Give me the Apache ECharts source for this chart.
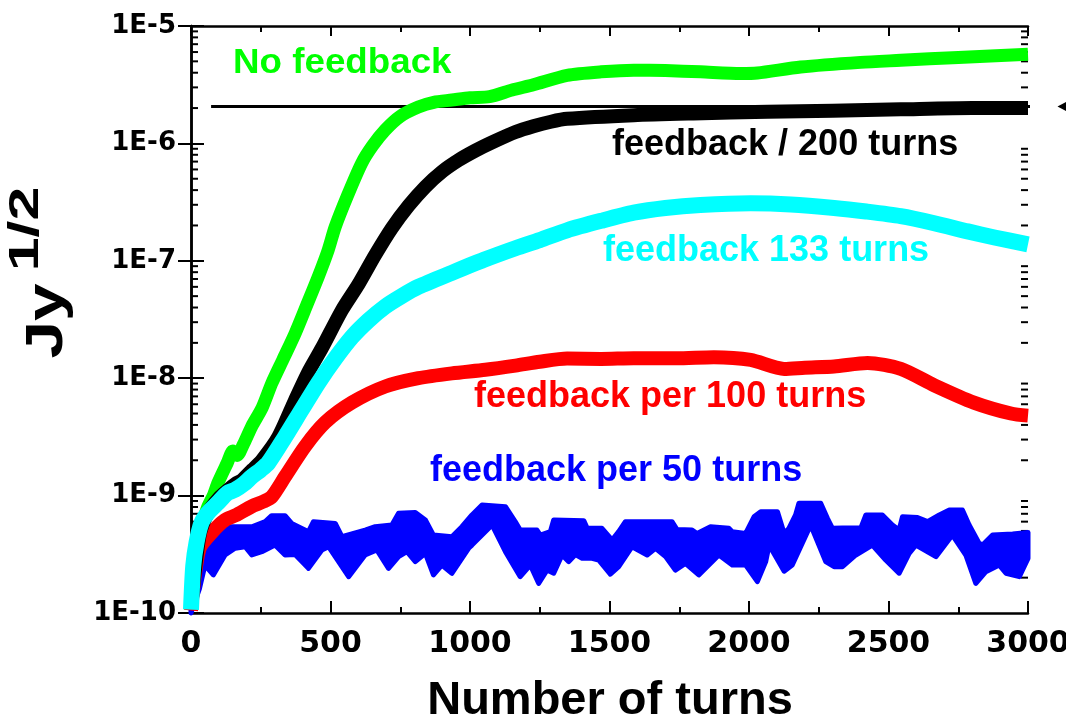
<!DOCTYPE html>
<html>
<head>
<meta charset="utf-8">
<script src="https://cdn.jsdelivr.net/npm/echarts@6/dist/echarts.min.js"></script>
<style>
html,body{margin:0;padding:0;background:#fff;overflow:hidden;}
#chart{width:1066px;height:723px;}
</style>
</head>
<body>
<div id="chart"></div>
<script>
// ---------- data (turns, Jy^1/2) ----------
const xTicks = [0, 500, 1000, 1500, 2000, 2500, 3000];
const yTickLabels = ['1E-10', '1E-9', '1E-8', '1E-7', '1E-6', '1E-5'];

const greenT = [0,15,25,45,61,80,97,130,150,165,190,218,255,290,330,373,415,456,490,517,560,612,650,696,750,815,870,935,1000,1070,1151,1227,1348,1470,1587,1700,1826,1970,2030,2185,2400,2544,2750,3000];
const greenV = [1.1e-10,3.2e-10,4.5e-10,6.3e-10,8.1e-10,1.0e-9,1.29e-9,1.9e-9,2.4e-9,2.2e-9,2.8e-9,3.9e-9,5.6e-9,9.1e-9,1.45e-8,2.4e-8,4.2e-8,7.3e-8,1.2e-7,1.95e-7,3.55e-7,6.8e-7,9.5e-7,1.3e-6,1.7e-6,2.04e-6,2.24e-6,2.34e-6,2.45e-6,2.5e-6,2.85e-6,3.16e-6,3.8e-6,4.07e-6,4.2e-6,4.17e-6,4.07e-6,3.94e-6,3.98e-6,4.47e-6,4.9e-6,5.1e-6,5.4e-6,5.75e-6];

const blackT = [0,30,60,100,133,160,182,220,254,313,373,420,470,541,600,660,720,780,840,900,959,1020,1079,1163,1227,1290,1348,1587,1800,2066,2300,2544,2800,3000];
const blackV = [1.1e-10,4.5e-10,7.1e-10,9.5e-10,1.12e-9,1.26e-9,1.35e-9,1.66e-9,2.0e-9,3.16e-9,6.5e-9,1.12e-8,1.82e-8,3.8e-8,6.3e-8,1.12e-7,1.9e-7,2.95e-7,4.27e-7,5.75e-7,7.2e-7,8.7e-7,1.02e-6,1.25e-6,1.4e-6,1.53e-6,1.62e-6,1.74e-6,1.8e-6,1.86e-6,1.9e-6,1.95e-6,2.0e-6,2.0e-6];

const cyanT = [0,8,20,38,60,97,130,158,190,218,250,277,337,397,456,515,577,636,696,755,815,935,1050,1163,1250,1348,1470,1587,1700,1826,2006,2150,2305,2420,2544,2664,2784,2880,3000];
const cyanV = [1.07e-10,2.5e-10,4.0e-10,5.9e-10,7.1e-10,8.7e-10,1.05e-9,1.12e-9,1.26e-9,1.45e-9,1.66e-9,1.9e-9,3.16e-9,5.4e-9,9.1e-9,1.45e-8,2.24e-8,3.1e-8,4.07e-8,5.0e-8,6.0e-8,7.9e-8,1.02e-7,1.28e-7,1.5e-7,1.82e-7,2.19e-7,2.57e-7,2.82e-7,2.99e-7,3.09e-7,3.02e-7,2.82e-7,2.63e-7,2.4e-7,2.09e-7,1.78e-7,1.58e-7,1.38e-7];

const redT = [0,30,80,122,160,218,260,290,337,409,481,577,696,815,935,1055,1163,1250,1348,1470,1587,1740,1874,2006,2126,2200,2305,2425,2544,2664,2806,2939,3000];
const redV = [1.05e-10,3.5e-10,5.0e-10,6.2e-10,6.8e-10,8.1e-10,8.9e-10,9.8e-10,1.45e-9,2.63e-9,4.2e-9,6.2e-9,8.5e-9,1.0e-8,1.1e-8,1.18e-8,1.28e-8,1.38e-8,1.47e-8,1.46e-8,1.48e-8,1.48e-8,1.51e-8,1.43e-8,1.2e-8,1.23e-8,1.26e-8,1.35e-8,1.2e-8,8.7e-9,6.2e-9,5.0e-9,4.8e-9];

// blue band (feedback per 50 turns): upper and lower envelope of the noisy trace
const blueUpT = [0,30,60,100,122,218,266,289,337,361,421,439,517,541,624,660,720,744,804,840,869,935,971,1007,1043,1127,1162,1180,1240,1252,1288,1300,1408,1420,1473,1509,1533,1557,1724,1742,1796,1814,1862,1928,1940,1988,2018,2042,2102,2126,2143,2167,2179,2257,2281,2299,2335,2401,2419,2478,2514,2538,2550,2604,2640,2682,2718,2765,2789,2825,2837,2873,2945,3000];
const blueUpV = [1.2e-10,2.6e-10,3.5e-10,5.0e-10,5.43e-10,5.43e-10,6.0e-10,6.75e-10,6.75e-10,5.8e-10,4.93e-10,6.0e-10,5.8e-10,4.47e-10,5.09e-10,5.43e-10,5.62e-10,7.06e-10,7.19e-10,6.2e-10,4.61e-10,4.47e-10,5.43e-10,6.84e-10,8.3e-10,8.05e-10,6.0e-10,5.09e-10,5.09e-10,4.61e-10,4.93e-10,6.2e-10,6.1e-10,5.26e-10,5.26e-10,4.19e-10,4.93e-10,6.0e-10,6.0e-10,5.14e-10,5.09e-10,4.76e-10,5.43e-10,5.26e-10,4.93e-10,4.76e-10,6.6e-10,7.3e-10,7.3e-10,4.76e-10,5.26e-10,6.84e-10,8.6e-10,8.6e-10,6.4e-10,5.26e-10,5.3e-10,5.3e-10,6.84e-10,6.84e-10,5.62e-10,5.09e-10,6.6e-10,6.5e-10,6.0e-10,6.84e-10,7.53e-10,7.53e-10,5.62e-10,3.92e-10,3.79e-10,4.61e-10,4.7e-10,4.85e-10];
const blueLoT = [0,30,50,80,122,158,194,218,254,301,337,373,421,469,493,565,624,666,708,744,774,804,840,869,899,935,995,1007,1079,1127,1180,1216,1246,1276,1300,1330,1354,1378,1402,1437,1461,1503,1533,1581,1635,1665,1701,1736,1772,1820,1892,1940,1988,2030,2060,2072,2126,2155,2221,2275,2305,2335,2383,2442,2490,2538,2574,2598,2670,2729,2777,2813,2849,2897,2921,2969,3000];
const blueLoV = [1.0e-10,1.6e-10,2.56e-10,2.11e-10,3.12e-10,3.56e-10,3.67e-10,3.12e-10,3.33e-10,3.79e-10,3.12e-10,3.15e-10,2.4e-10,3.44e-10,3.67e-10,2.04e-10,3.12e-10,3.44e-10,2.4e-10,3.02e-10,3.33e-10,2.74e-10,3.22e-10,2.11e-10,2.56e-10,2.18e-10,3.56e-10,3.79e-10,5.62e-10,3.33e-10,2.04e-10,2.56e-10,1.79e-10,2.32e-10,2.18e-10,3.12e-10,2.74e-10,3.15e-10,2.92e-10,2.92e-10,2.83e-10,2.14e-10,2.48e-10,3.67e-10,3.12e-10,3.56e-10,3.02e-10,2.32e-10,2.65e-10,2.11e-10,3.12e-10,2.56e-10,2.56e-10,1.85e-10,2.74e-10,3.79e-10,2.27e-10,2.56e-10,5.62e-10,2.74e-10,2.48e-10,2.48e-10,3.12e-10,3.79e-10,2.83e-10,2.18e-10,3.22e-10,3.79e-10,3.02e-10,4.61e-10,3.12e-10,1.79e-10,2.25e-10,2.56e-10,2.18e-10,2.04e-10,2.92e-10];

// horizontal reference level (Jy^1/2) and its extent in turns
const refLevel = 2.06e-6;
const refT = [72, 3052];

const labels = {
  noFb: 'No feedback',
  fb200: 'feedback / 200 turns',
  fb133: 'feedback 133 turns',
  fb100: 'feedback per 100 turns',
  fb50: 'feedback per 50 turns'
};

// ---------- helpers ----------
const zip = (t, v) => t.map((x, i) => [x, v[i]]);
const minorTickValues = [];
for (let e = -10; e < -5; e++) for (let m = 2; m <= 9; m++) minorTickValues.push([0, m * Math.pow(10, e)]);

const TXT = '"Liberation Sans", Arial, sans-serif';
const TICKFONT = '"DejaVu Sans", sans-serif';

function lineSeries(name, t, v, color, width) {
  return {
    name, type: 'line', data: zip(t, v), showSymbol: false, smooth: 0.25,
    lineStyle: { color, width, join: 'round', cap: 'butt' }, silent: true, z: 3
  };
}
function text(str, x, y, color, size, opts) {
  return Object.assign({
    type: 'text', x, y, z: 20,
    style: { text: str, fill: color, font: 'bold ' + size + 'px ' + TXT,
      align: 'left', verticalAlign: 'middle', textAlign: 'left', textVerticalAlign: 'middle' }
  }, opts || {});
}

const axisLineStyle = { lineStyle: { color: '#000', width: 2.5 } };

const chart = echarts.init(document.getElementById('chart'), null, { renderer: 'canvas' });
chart.setOption({
  animation: false,
  backgroundColor: '#fff',
  grid: { left: 191, right: 38, top: 26, bottom: 110, containLabel: false, outerBoundsMode: 'none' },
  xAxis: [{
    type: 'value', min: xTicks[0], max: xTicks[xTicks.length - 1], interval: 500,
    axisLine: axisLineStyle, splitLine: { show: false },
    axisTick: { inside: true, length: 12, lineStyle: { width: 2, color: '#000' } },
    minorTick: { show: true, splitNumber: 2, length: 6, lineStyle: { width: 2, color: '#000' } },
    axisLabel: { margin: 16, color: '#000', fontFamily: TICKFONT, fontWeight: 'bold', fontSize: 30,
      formatter: v => String(v) }
  }, {
    type: 'value', position: 'top', min: xTicks[0], max: xTicks[xTicks.length - 1], interval: 500,
    axisLine: axisLineStyle, splitLine: { show: false },
    axisTick: { inside: true, length: 10, lineStyle: { width: 2, color: '#000' } },
    minorTick: { show: true, splitNumber: 2, length: 6, lineStyle: { width: 2, color: '#000' } },
    axisLabel: { show: false }
  }],
  yAxis: [{
    type: 'log', logBase: 10, min: 1e-10, max: 1e-5,
    axisLine: axisLineStyle, splitLine: { show: false },
    axisTick: { inside: true, length: 13, lineStyle: { width: 2, color: '#000' } },
    axisLabel: {
      margin: 15, color: '#000', fontFamily: TICKFONT, fontWeight: 'bold', fontSize: 26,
      formatter: v => yTickLabels[Math.round(Math.log10(v)) + 10]
    }
  }, {
    type: 'log', logBase: 10, min: 1e-10, max: 1e-5, position: 'right',
    axisLine: axisLineStyle, splitLine: { show: false },
    axisTick: { inside: true, length: 13, lineStyle: { width: 2, color: '#000' } },
    axisLabel: { show: false }
  }],
  series: [
    {
      name: 'minor ticks', type: 'custom', silent: true, z: 1, data: minorTickValues,
      renderItem: (params, api) => {
        const p = api.coord([0, api.value(1)]);
        const cs = params.coordSys;
        const st = { stroke: '#000', lineWidth: 2 };
        return { type: 'group', children: [
          { type: 'line', shape: { x1: cs.x, y1: p[1], x2: cs.x + 7, y2: p[1] }, style: st },
          { type: 'line', shape: { x1: cs.x + cs.width, y1: p[1], x2: cs.x + cs.width - 7, y2: p[1] }, style: st }
        ] };
      }
    },
    {
      name: 'reference', type: 'line', clip: false, showSymbol: false, silent: true, z: 2,
      data: [[refT[0], refLevel], [refT[1], refLevel]],
      lineStyle: { color: '#000', width: 3 }
    },
    {
      name: 'arrow', type: 'custom', silent: true, clip: false, z: 2, data: [[refT[1], refLevel]],
      renderItem: (params, api) => {
        const p = api.coord([api.value(0), api.value(1)]);
        return { type: 'polygon', shape: { points: [[p[0] + 15, p[1]], [p[0] + 30, p[1] - 8], [p[0] + 30, p[1] + 8]] },
          style: { fill: '#000' } };
      }
    },
    {
      name: labels.fb50, type: 'custom', silent: true, z: 2, data: [[0, 1e-10]],
      renderItem: (params, api) => {
        const pts = blueUpT.map((t, i) => api.coord([t, blueUpV[i]]));
        for (let i = blueLoT.length - 1; i >= 0; i--) pts.push(api.coord([blueLoT[i], blueLoV[i]]));
        return { type: 'polygon', shape: { points: pts },
          style: { fill: '#0000ff', stroke: '#0000ff', lineWidth: 5, lineJoin: 'round' } };
      }
    },
    lineSeries(labels.fb100, redT, redV, '#ff0000', 14),
    lineSeries(labels.noFb, greenT, greenV, '#00ff00', 13),
    lineSeries(labels.fb200, blackT, blackV, '#000000', 14),
    lineSeries(labels.fb133, cyanT, cyanV, '#00ffff', 16)
  ],
  graphic: [
    text(labels.noFb, 233, 63, '#00ff00', 35, { scaleX: 1.05 }),
    text(labels.fb200, 612, 145, '#000000', 36),
    text(labels.fb133, 603, 251, '#00ffff', 36),
    text(labels.fb100, 474, 397, '#ff0000', 36),
    text(labels.fb50, 430, 471, '#0000ff', 36),
    { type: 'text', x: 610, y: 701, z: 20,
      style: { text: 'Number of turns', fill: '#000', font: 'bold 47px ' + TXT,
        align: 'center', verticalAlign: 'middle', textAlign: 'center', textVerticalAlign: 'middle' } },
    { type: 'text', x: 48, y: 321, rotation: Math.PI / 2, scaleX: 1.3, z: 20,
      style: { text: 'Jy', fill: '#000', font: 'bold 52px ' + TXT,
        align: 'center', verticalAlign: 'middle', textAlign: 'center', textVerticalAlign: 'middle' } },
    { type: 'text', x: 26, y: 229, rotation: Math.PI / 2, scaleX: 1.45, z: 20,
      style: { text: '1/2', fill: '#000', font: 'bold 42px ' + TXT,
        align: 'center', verticalAlign: 'middle', textAlign: 'center', textVerticalAlign: 'middle' } }
  ]
});
</script>
</body>
</html>
